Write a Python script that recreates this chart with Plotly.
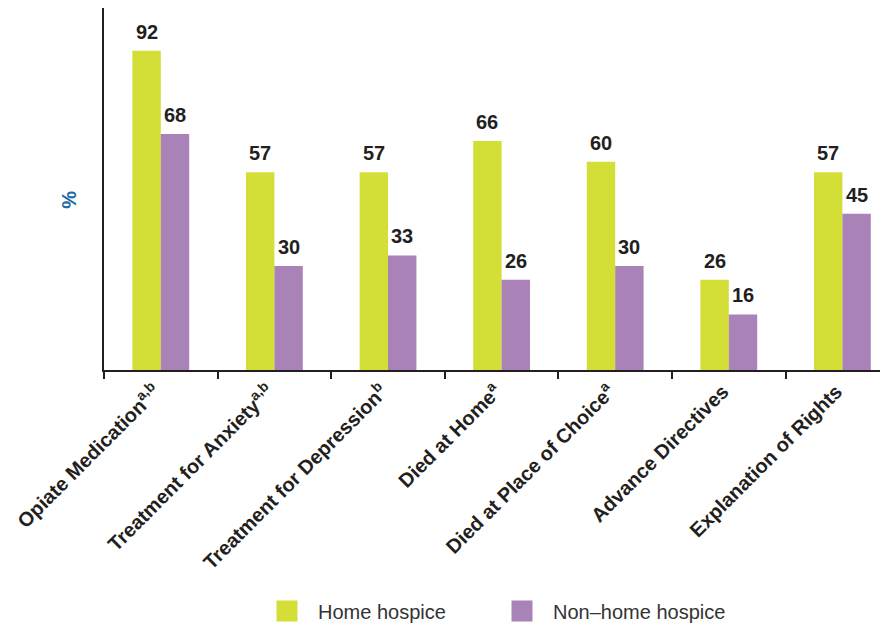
import plotly.graph_objects as go

categories = [
    "Opiate Medication<sup>a,b</sup>",
    "Treatment for Anxiety<sup>a,b</sup>",
    "Treatment for Depression<sup>b</sup>",
    "Died at Home<sup>a</sup>",
    "Died at Place of Choice<sup>a</sup>",
    "Advance Directives",
    "Explanation of Rights",
]
home_hospice = [92, 57, 57, 66, 60, 26, 57]
non_home_hospice = [68, 30, 33, 26, 30, 16, 45]
series_names = ["Home hospice", "Non\u2013home hospice"]

HOME_COLOR = "#d3df37"
NONHOME_COLOR = "#a982b8"
DARK = "#231f20"
FONT = "Liberation Sans, Arial, sans-serif"

# The page body adds an 8px margin; the figure is sized to fit the 888x624 window.
W, H = 880, 616

fig = go.Figure()
for name, vals, col in ((series_names[0], home_hospice, HOME_COLOR),
                        (series_names[1], non_home_hospice, NONHOME_COLOR)):
    fig.add_trace(go.Bar(name=name, x=categories, y=vals, showlegend=False,
                         legendgroup=name,
                         marker=dict(color=col, line=dict(width=0))))
# legend swatches (larger squares, as in the original key)
for name, col in ((series_names[0], HOME_COLOR), (series_names[1], NONHOME_COLOR)):
    fig.add_trace(go.Scatter(name=name, x=[None], y=[None], mode="markers",
                             legendgroup=name, hoverinfo="skip",
                             marker=dict(symbol="square", size=16, color=col,
                                         line=dict(width=5, color=col))))

annotations = []
for i, cat in enumerate(categories):
    for val, shift in ((home_hospice[i], -14.2), (non_home_hospice[i], 14.2)):
        annotations.append(dict(
            x=i, y=val, xref="x", yref="y", text=str(val), showarrow=False,
            xshift=shift, yshift=6, yanchor="bottom", xanchor="center",
            font=dict(family=FONT, size=20, color=DARK, weight="bold")))
annotations.append(dict(
    text="%", xref="paper", yref="paper", x=0, y=0.47, xshift=-35,
    showarrow=False, textangle=-90, xanchor="center", yanchor="middle",
    font=dict(family=FONT, size=20, color="#1b6ca8", weight="bold")))

fig.update_layout(
    width=W, height=H,
    margin=dict(l=96, r=0, t=0, b=254, autoexpand=False),
    paper_bgcolor="white", plot_bgcolor="white",
    barmode="group", bargap=0.5, bargroupgap=0,
    font=dict(family=FONT, color=DARK),
    annotations=annotations,
    showlegend=True,
    legend=dict(orientation="h", xref="container", yref="container",
                x=248 / W, y=13 / H, xanchor="left", yanchor="middle",
                font=dict(family=FONT, size=20, color="#333333"),
                itemwidth=52, itemsizing="trace",
                entrywidth=168, entrywidthmode="pixels",
                bgcolor="rgba(0,0,0,0)"),
)
fig.update_xaxes(
    type="category",
    range=[-0.5, -0.5 + 784 / 113.6],
    tickangle=-45,
    tickfont=dict(family=FONT, size=20, color=DARK, weight="bold"),
    ticklabelshift=-6,
    ticks="outside", ticklen=7, tickwidth=1.5, tickcolor=DARK,
    tickson="boundaries",
    showline=True, linecolor=DARK, linewidth=2,
    showgrid=False, zeroline=False, automargin=False,
)
fig.update_yaxes(
    range=[0, 104.3],
    showticklabels=False, ticks="",
    showline=True, linecolor=DARK, linewidth=2,
    showgrid=False, zeroline=False, automargin=False,
)

fig.write_html("out.html")
